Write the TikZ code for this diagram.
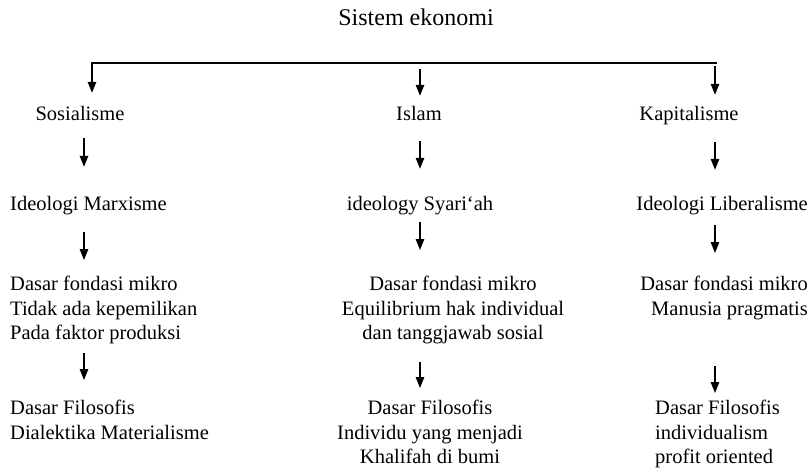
\documentclass[tikz,border=0pt]{standalone}
\usepackage{fontspec}
\setmainfont{Liberation Serif}
\usetikzlibrary{arrows.meta}

\begin{document}
\begin{tikzpicture}[x = 1pt, y = -1pt,
                    lbl/.style = {inner sep = 0pt, font = \fontsize{20.5}{24.5}\selectfont, text height = 14pt, text depth = 5pt},
                    blk/.style = {inner sep = 0pt, font = \fontsize{20.5}{24.5}\selectfont},
                    arr/.style = {line width = 1.3pt, -{Triangle[length = 11pt, width = 8.5pt]}}]
            \useasboundingbox (0,0) rectangle (811,475);

            \node [lbl, font = \fontsize{24}{28}\selectfont, anchor = base] (title) at (416,25) {Sistem ekonomi};

            % branch bar and columns
            \coordinate (hL) at (92,63);
            \coordinate (hR) at (717,63);
            \coordinate (cL) at (84,0);
            \coordinate (cM) at (420,0);
            \coordinate (cR) at (715,0);

            \node [lbl, anchor = base]      (sos)  at (80,120)  {Sosialisme};
            \node [lbl, anchor = base]      (isl)  at (419,120) {Islam};
            \node [lbl, anchor = base]      (kap)  at (689,120) {Kapitalisme};

            \node [lbl, anchor = base west] (marx) at (10,210)  {Ideologi Marxisme};
            \node [lbl, anchor = base]      (syar) at (420,210) {ideology Syari‘ah};
            \node [lbl, anchor = base east] (lib)  at (808,210) {Ideologi Liberalisme};

            \node [blk, anchor = north west, align = left]   (mikA) at (10,276)  {Dasar fondasi mikro\\Tidak ada kepemilikan\\Pada faktor produksi};
            \node [blk, anchor = north,      align = center] (mikB) at (453,276) {Dasar fondasi mikro\\Equilibrium hak individual\\dan tanggjawab sosial};
            \node [blk, anchor = north east, align = right]  (mikC) at (808,276) {Dasar fondasi mikro\\Manusia pragmatis};

            \node [blk, anchor = north west, align = left]   (filA) at (10,400)  {Dasar Filosofis\\Dialektika Materialisme};
            \node [blk, anchor = north,      align = center] (filB) at (430,400) {Dasar Filosofis\\Individu yang menjadi\\Khalifah di bumi};
            \node [blk, anchor = north west, align = left]   (filC) at (655,400) {Dasar Filosofis\\individualism\\profit oriented};

            % top arrows
            \draw [arr, shorten >= 13pt] (hR) -- (hL) -- (hL |- sos.north);
            \draw [arr, shorten <= 6pt, shorten >= 10pt] (hL -| cM) -- (isl.north -| cM);
            \draw [arr, shorten <= 3pt, shorten >= 11pt] (hR -| cR) -- (kap.north -| cR);

            % level arrows
            \draw [arr, shorten <= 13pt, shorten >= 29pt] (sos.south -| cL)  -- (marx.north -| cL);
            \draw [arr, shorten <= 16pt, shorten >= 27pt] (isl.south -| cM)  -- (syar.north -| cM);
            \draw [arr, shorten <= 17pt, shorten >= 26pt] (kap.south -| cR)  -- (lib.north -| cR);

            \draw [arr, shorten <= 17pt, shorten >= 16pt] (marx.south -| cL) -- (mikA.north -| cL);
            \draw [arr, shorten <= 7pt,  shorten >= 26pt] (syar.south -| cM) -- (mikB.north -| cM);
            \draw [arr, shorten <= 10pt, shorten >= 23pt] (lib.south -| cR)  -- (mikC.north -| cR);

            \draw [arr, shorten <= 9pt,  shorten >= 20pt] (mikA.south -| cL) -- (filA.north -| cL);
            \draw [arr, shorten <= 18pt, shorten >= 12pt] (mikB.south -| cM) -- (filB.north -| cM);
            \draw [arr, shorten <= 46pt, shorten >= 7pt]  (mikC.south -| cR) -- (filC.north -| cR);
\end{tikzpicture}
\end{document}
